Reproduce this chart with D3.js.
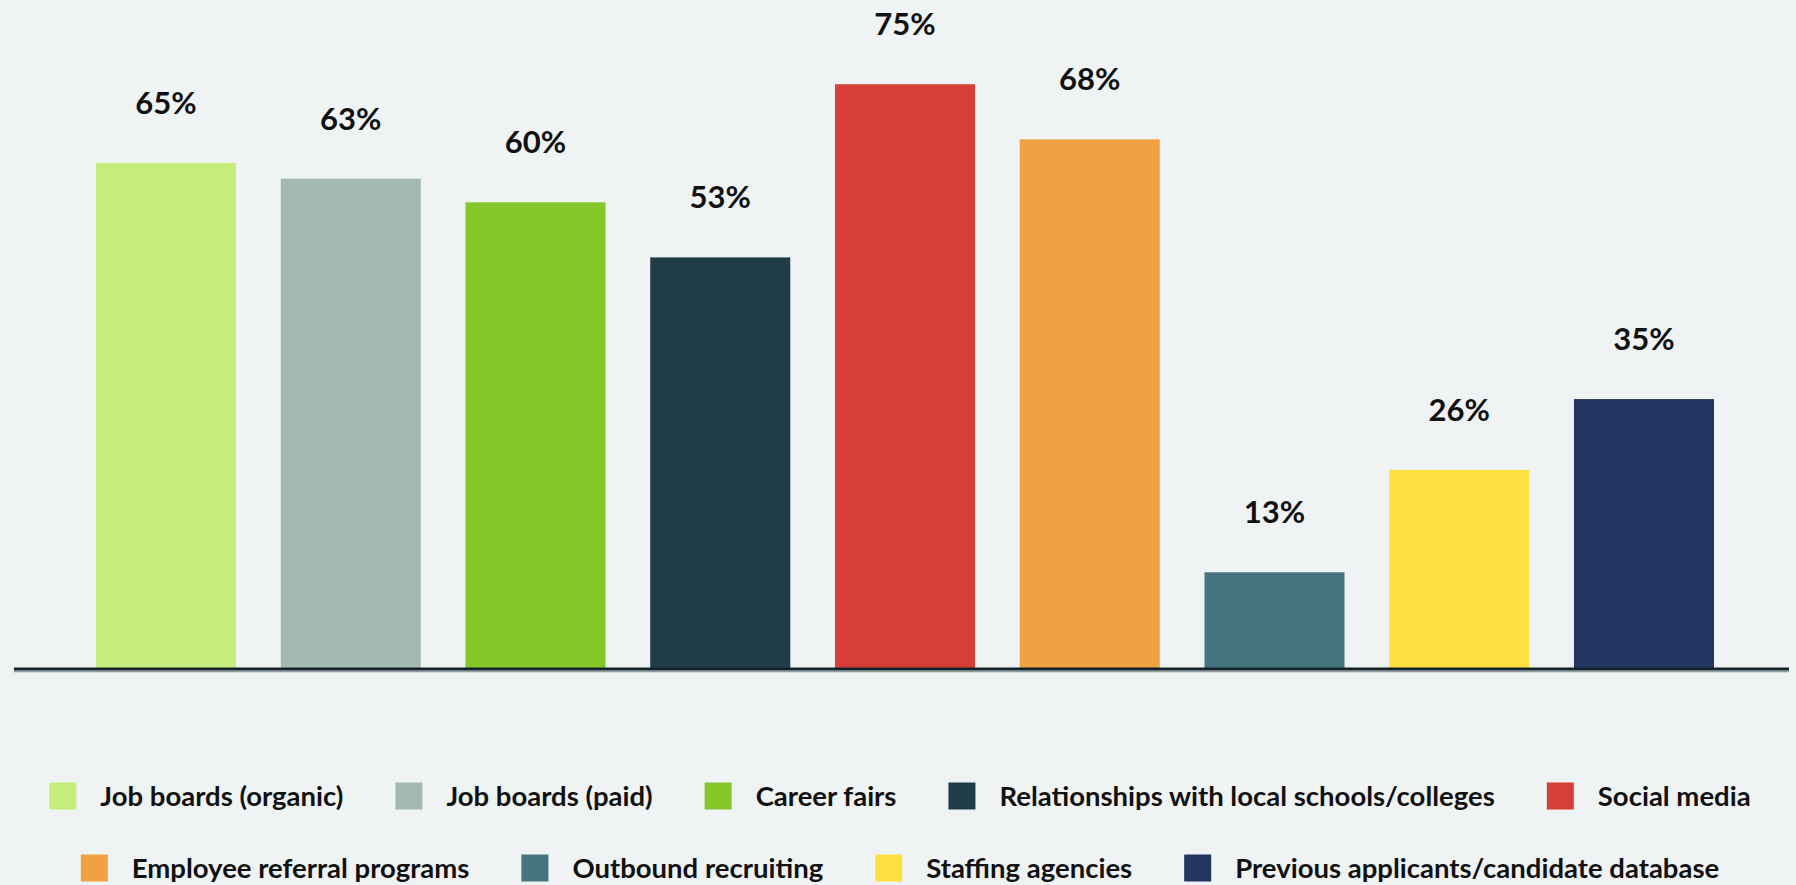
<!DOCTYPE html>
<html>
<head>
<meta charset="utf-8">
<script src="https://cdn.jsdelivr.net/npm/d3@7"></script>
<style>
  html, body { margin: 0; padding: 0; background: #eff3f4; }
  svg { display: block; }
  text { font-family: Lato, "Open Sans", sans-serif; fill: #111; }
</style>
</head>
<body>
<svg id="chart" width="1796" height="885"></svg>
<script>
// Recruiting channels and the share of respondents using each
const categories = [
  "Job boards (organic)",
  "Job boards (paid)",
  "Career fairs",
  "Relationships with local schools/colleges",
  "Social media",
  "Employee referral programs",
  "Outbound recruiting",
  "Staffing agencies",
  "Previous applicants/candidate database"
];
const values = [65, 63, 60, 53, 75, 68, 13, 26, 35];
const colors = [
  "#c5ed7b", "#a4b9b4", "#84c728", "#1f3c47", "#d83e39",
  "#f1a141", "#47757f", "#fee040", "#233560"
];
const legendRows = [
  categories.slice(0, 5),
  categories.slice(5)
];

const W = 1796, H = 885;
const baseY = 669;

const svg = d3.select("#chart");
svg.append("rect").attr("width", W).attr("height", H).attr("fill", "#eff3f4");

const x = d3.scaleBand()
  .domain(categories)
  .range([96, 1714])
  .paddingInner(0.242)
  .paddingOuter(0);

// zero sits just under the axis rule
const y = d3.scaleLinear()
  .domain([0, 85.7])
  .range([674.6, 0]);

const color = d3.scaleOrdinal().domain(categories).range(colors);

const data = categories.map((c, i) => ({ c, v: values[i] }));

// bars
svg.append("g").selectAll("rect")
  .data(data)
  .join("rect")
  .attr("x", d => x(d.c))
  .attr("y", d => y(d.v))
  .attr("width", x.bandwidth())
  .attr("height", d => baseY - y(d.v))
  .attr("fill", d => color(d.c));

// value labels
svg.append("g").selectAll("text")
  .data(data)
  .join("text")
  .attr("x", d => x(d.c) + x.bandwidth() / 2)
  .attr("y", d => y(d.v) - 49)
  .attr("text-anchor", "middle")
  .style("font-size", "31px")
  .style("font-weight", 700)
  .text(d => d.v + "%");

// baseline
svg.append("line")
  .attr("x1", 14).attr("x2", 1789)
  .attr("y1", baseY + 2.5).attr("y2", baseY + 2.5)
  .attr("stroke", "#8e9ca0").attr("stroke-width", 1.5);
svg.append("line")
  .attr("x1", 14).attr("x2", 1789)
  .attr("y1", baseY).attr("y2", baseY)
  .attr("stroke", "#14232a").attr("stroke-width", 3);

// legend: two centred rows
const sw = 27, swGap = 24, itemGap = 52;
const rowY = [796, 868];
const legend = svg.append("g");
legendRows.forEach((row, r) => {
  const g = legend.append("g");
  let cx = 0;
  row.forEach(name => {
    const item = g.append("g").attr("transform", `translate(${cx},0)`);
    item.append("rect")
      .attr("x", 0).attr("y", rowY[r] - sw / 2)
      .attr("width", sw).attr("height", sw)
      .attr("fill", color(name));
    const t = item.append("text")
      .attr("x", sw + swGap)
      .attr("y", rowY[r])
      .attr("dy", "0.36em")
      .style("font-size", "27.5px")
      .style("font-weight", 700)
      .text(name);
    cx += sw + swGap + t.node().getComputedTextLength() + itemGap;
  });
  const total = cx - itemGap;
  g.attr("transform", `translate(${(W - total) / 2 + 2},0)`);
});
</script>
</body>
</html>
